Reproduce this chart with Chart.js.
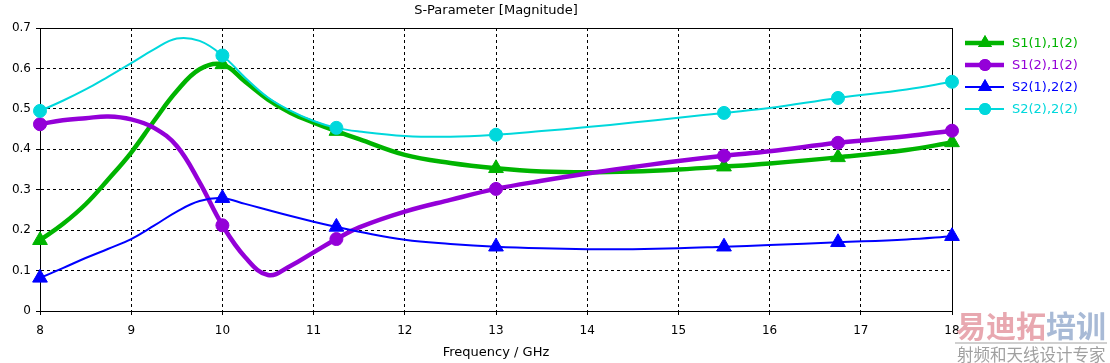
<!DOCTYPE html>
<html>
<head>
<meta charset="utf-8">
<script src="https://cdn.jsdelivr.net/npm/chart.js@4.4.1/dist/chart.umd.min.js"></script>
<style>
  html, body { margin: 0; padding: 0; background: #fff; }
  #wrap { position: relative; width: 1110px; height: 363px; overflow: hidden; }
  #wm1 { position: absolute; left: 956px; top: 304px; font: bold 30px "Noto Sans CJK SC"; line-height: 40px; white-space: nowrap; }
  #wm1 .a { color: #e8a8b0; }
  #wm1 .b { color: #a8bad6; }
  #wmline { position: absolute; left: 955px; top: 342px; width: 152px; height: 2px; background: #d0d0d0; }
  #wm2 { position: absolute; left: 957px; top: 342px; font: 16.5px "Noto Sans CJK SC"; line-height: 24px; color: #a0a0a0; white-space: nowrap; }
</style>
</head>
<body>
<div id="wrap">
  <canvas id="chart" width="1110" height="363"></canvas>
  <div id="wm1"><span class="a">易迪拓</span><span class="b">培训</span></div>
  <div id="wmline"></div>
  <div id="wm2">射频和天线设计专家</div>
</div>
<script>
// frequency samples (GHz)
const freqs = [8, 8.25, 8.5, 8.75, 9, 9.25, 9.5, 9.75, 10, 10.25, 10.5, 10.75, 11, 11.25, 11.5,
  12, 12.5, 13, 13.5, 14, 14.5, 15, 15.5, 16, 16.75, 17.5, 18];

// where the solver put its markers
const markerFreqs = [8, 10, 11.25, 13, 15.5, 16.75, 18];

const labels = ["S1(1),1(2)", "S1(2),1(2)", "S2(1),2(2)", "S2(2),2(2)"];

const s11 = [0.175, 0.215, 0.264, 0.326, 0.392, 0.47, 0.544, 0.598, 0.61, 0.567, 0.523, 0.49, 0.466, 0.445, 0.425,
  0.386, 0.366, 0.353, 0.345, 0.343, 0.345, 0.35, 0.357, 0.365, 0.38, 0.398, 0.417];
const s12 = [0.462, 0.472, 0.477, 0.481, 0.474, 0.453, 0.408, 0.318, 0.212, 0.133, 0.089, 0.112, 0.145, 0.178, 0.207,
  0.246, 0.275, 0.302, 0.322, 0.34, 0.356, 0.371, 0.384, 0.395, 0.416, 0.432, 0.446];
const s21 = [0.082, 0.106, 0.131, 0.154, 0.178, 0.211, 0.246, 0.272, 0.279, 0.265, 0.25, 0.235, 0.221, 0.208, 0.196,
  0.176, 0.166, 0.159, 0.155, 0.153, 0.153, 0.155, 0.159, 0.163, 0.17, 0.177, 0.185];
const s22 = [0.495, 0.52, 0.548, 0.58, 0.613, 0.647, 0.674, 0.668, 0.632, 0.577, 0.528, 0.495, 0.47, 0.453, 0.444,
  0.433, 0.431, 0.436, 0.445, 0.455, 0.466, 0.478, 0.49, 0.502, 0.527, 0.548, 0.567];

const colors = ['#00b400', '#9400d8', '#0000ff', '#00d8dc'];
const widths = [4.5, 4.5, 2, 2];
const styles = ['triangle', 'circle', 'triangle', 'circle'];
const radii = [8.5, 6.5, 8.5, 6.5];

const series = [s11, s12, s21, s22];

Chart.defaults.font.family = 'DejaVu Sans';
Chart.defaults.font.size = 12;
Chart.defaults.color = '#000';

// frame round the plot area
const framePlugin = {
  id: 'frame',
  beforeDatasetsDraw(chart) {
    const a = chart.chartArea, ctx = chart.ctx;
    ctx.save();
    ctx.strokeStyle = '#000';
    ctx.lineWidth = 1;
    ctx.strokeRect(Math.round(a.left) + 0.5, Math.round(a.top) + 0.5,
      Math.round(a.right - a.left), Math.round(a.bottom - a.top));
    ctx.restore();
  }
};

// title over the plot and legend to the right
const textPlugin = {
  id: 'texts',
  afterDraw(chart) {
    const a = chart.chartArea, ctx = chart.ctx;
    ctx.save();
    ctx.font = '13px "DejaVu Sans"';
    ctx.fillStyle = '#000';
    ctx.textAlign = 'center';
    ctx.textBaseline = 'middle';
    ctx.fillText('S-Parameter [Magnitude]', (a.left + a.right) / 2, 11);

    chart.data.datasets.forEach((ds, i) => {
      const y = 43 + i * 22;
      ctx.strokeStyle = ds.borderColor;
      ctx.lineWidth = ds.borderWidth;
      ctx.beginPath();
      ctx.moveTo(965, y);
      ctx.lineTo(1004, y);
      ctx.stroke();
      ctx.fillStyle = ds.borderColor;
      Chart.helpers.drawPoint(ctx, { pointStyle: ds.pointStyle, radius: radii[i] - 0.5, borderWidth: 0 }, 985, y);
      ctx.fill();
      ctx.font = '13px "DejaVu Sans"';
      ctx.textAlign = 'left';
      ctx.fillText(ds.label, 1012, y + 1);
    });
    ctx.restore();
  }
};

const datasets = series.map((vals, i) => ({
  label: labels[i],
  data: freqs.map((f, j) => ({ x: f, y: vals[j] })),
  borderColor: colors[i],
  backgroundColor: colors[i],
  borderWidth: widths[i],
  pointStyle: styles[i],
  pointRadius: freqs.map(f => markerFreqs.includes(f) ? radii[i] : 0),
  pointBorderWidth: 1,
  pointHoverRadius: 0,
  tension: 0.4,
  order: 4 - i,
  clip: false
}));

new Chart(document.getElementById('chart'), {
  type: 'line',
  data: { datasets },
  options: {
    responsive: false,
    animation: false,
    devicePixelRatio: 1,
    layout: { padding: { top: 28, right: 158, left: 0, bottom: 0 } },
    plugins: { legend: { display: false }, tooltip: { enabled: false } },
    scales: {
      x: {
        type: 'linear', min: 8, max: 18,
        afterFit(s) { s.height = 52; },
        ticks: { stepSize: 1, padding: 9, color: '#000' },
        grid: { color: '#000', tickLength: 4, tickColor: '#000', tickBorderDash: [] },
        border: { color: '#000', dash: [3, 3] },
        title: { display: true, text: 'Frequency / GHz', color: '#000', padding: { top: 0, bottom: 3 }, font: { size: 13 } }
      },
      y: {
        min: 0, max: 0.7,
        afterFit(s) { s.width = 40; },
        ticks: { stepSize: 0.1, padding: 5, color: '#000', callback: v => v === 0 ? '0' : v.toFixed(1) },
        grid: { color: '#000', tickLength: 4, tickColor: '#000', tickBorderDash: [] },
        border: { color: '#000', dash: [3, 3] }
      }
    }
  },
  plugins: [framePlugin, textPlugin]
});
</script>
</body>
</html>
